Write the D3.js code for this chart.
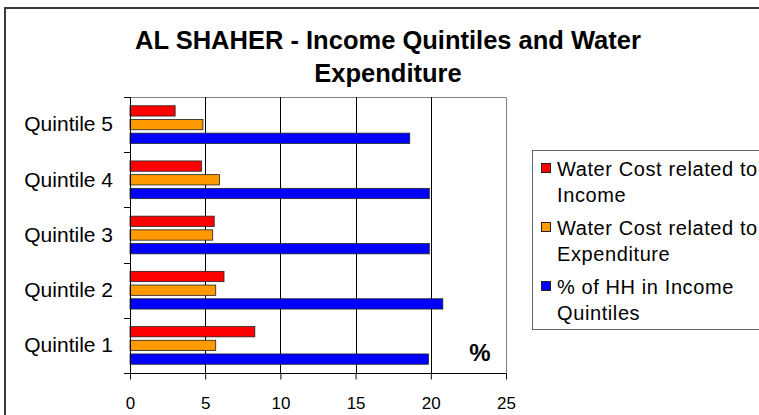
<!DOCTYPE html>
<html>
<head>
<meta charset="utf-8">
<script src="https://cdn.jsdelivr.net/npm/d3@7"></script>
<style>
  body { margin: 0; background: #fff; }
  svg { display: block; font-family: "Liberation Sans", Arial, sans-serif; }
</style>
</head>
<body>
<div id="chart"></div>
<script>
// values (%)
const categories = ["Quintile 5", "Quintile 4", "Quintile 3", "Quintile 2", "Quintile 1"];
const incomeCost = [3.0, 4.75, 5.6, 6.25, 8.3];
const expenditureCost = [4.85, 5.95, 5.5, 5.7, 5.7];
const hhShare = [18.6, 19.9, 19.9, 20.8, 19.85];
const xTicks = [0, 5, 10, 15, 20, 25];

const series = [
  { key: "income", values: incomeCost, color: "#ff0000", label: ["Water Cost related to", "Income"] },
  { key: "expend", values: expenditureCost, color: "#ff9900", label: ["Water Cost related to", "Expenditure"] },
  { key: "hh", values: hhShare, color: "#0000ff", label: ["% of HH in Income", "Quintiles"] }
];

const W = 759, H = 415;
const plot = { left: 130, top: 97, right: 506, bottom: 373 };

const svg = d3.select("#chart").append("svg")
  .attr("width", W).attr("height", H);

// chart area border (runs off the right and bottom edges)
svg.append("rect")
  .attr("x", 5).attr("y", 8).attr("width", 820).attr("height", 460)
  .attr("fill", "#fff").attr("stroke", "#3a3a3a").attr("stroke-width", 2);

// title
const title = svg.append("text")
  .attr("text-anchor", "middle").attr("font-weight", "bold").attr("font-size", 25.5);
title.append("tspan").attr("x", 388).attr("y", 49).text("AL SHAHER - Income Quintiles and Water");
title.append("tspan").attr("x", 388).attr("y", 82).text("Expenditure");

const x = d3.scaleLinear().domain([0, 25]).range([plot.left, plot.right]);

const y0 = d3.scaleBand().domain(categories)
  .range([plot.top, plot.bottom]).paddingInner(0.317).paddingOuter(0.1585);
const y1 = d3.scaleBand().domain(series.map(s => s.key))
  .range([0, y0.bandwidth()]).paddingInner(0.248).paddingOuter(0);

// plot area border (top and right, grey)
svg.append("path")
  .attr("d", `M${plot.left},${plot.top + 0.5}H${plot.right + 0.5}V${plot.bottom}`)
  .attr("fill", "none").attr("stroke", "#808080").attr("stroke-width", 1);

// gridlines
svg.append("g").selectAll("line")
  .data(xTicks.filter(t => t > 0 && t < 25))
  .join("line")
  .attr("x1", d => Math.round(x(d)) + 0.5).attr("x2", d => Math.round(x(d)) + 0.5)
  .attr("y1", plot.top).attr("y2", plot.bottom)
  .attr("stroke", "#000").attr("stroke-width", 1);

// bars
const groups = svg.append("g").selectAll("g")
  .data(categories)
  .join("g")
  .attr("transform", d => `translate(0,${y0(d)})`);

groups.selectAll("rect")
  .data((c, i) => series.map(s => ({ key: s.key, color: s.color, v: s.values[i] })))
  .join("rect")
  .attr("x", x(0))
  .attr("y", d => y1(d.key))
  .attr("width", d => x(d.v) - x(0))
  .attr("height", y1.bandwidth())
  .attr("fill", d => d.color)
  .attr("stroke", "#222").attr("stroke-width", 0.8);

// x axis
const xAxis = svg.append("g")
  .attr("transform", `translate(0,${plot.bottom + 0.5})`)
  .call(d3.axisBottom(x).tickValues(xTicks).tickSize(6).tickPadding(17).tickSizeOuter(0));
xAxis.selectAll("text").attr("font-size", 17).attr("font-family", "Liberation Sans, Arial, sans-serif").attr("fill", "#000");
xAxis.select(".domain").attr("d", `M${plot.left},0H${plot.right + 0.5}`).attr("stroke", "#000");
xAxis.selectAll(".tick line").attr("stroke", "#000");

// y axis: category labels
const yAxis = svg.append("g")
  .attr("transform", `translate(${plot.left},0)`)
  .call(d3.axisLeft(y0).tickSize(0).tickPadding(17));
yAxis.select(".domain").remove();
yAxis.selectAll("text").attr("font-size", 21).attr("font-family", "Liberation Sans, Arial, sans-serif").attr("fill", "#000");

// y axis line and boundary ticks
const bounds = categories.map(c => y0(c) - y0.step() * y0.paddingOuter());
bounds.push(plot.bottom);
svg.append("line")
  .attr("x1", plot.left + 0.5).attr("x2", plot.left + 0.5)
  .attr("y1", plot.top).attr("y2", plot.bottom + 1)
  .attr("stroke", "#000");
svg.append("g").selectAll("line")
  .data(bounds)
  .join("line")
  .attr("x1", plot.left - 6).attr("x2", plot.left)
  .attr("y1", d => Math.round(d) + 0.5).attr("y2", d => Math.round(d) + 0.5)
  .attr("stroke", "#000");

// % unit label
svg.append("text")
  .attr("x", 480).attr("y", 361)
  .attr("text-anchor", "middle").attr("font-weight", "bold").attr("font-size", 24)
  .text("%");

// legend
const legend = svg.append("g");
legend.append("rect")
  .attr("x", 532.5).attr("y", 150.5).attr("width", 300).attr("height", 179)
  .attr("fill", "#fff").attr("stroke", "#666").attr("stroke-width", 1);

const items = legend.selectAll("g.item")
  .data(series)
  .join("g").attr("class", "item")
  .attr("transform", (d, i) => `translate(0,${176 + i * 59})`);

items.append("rect")
  .attr("x", 541.5).attr("y", -12.5).attr("width", 9).attr("height", 9)
  .attr("fill", d => d.color).attr("stroke", "#222").attr("stroke-width", 1);

items.append("text")
  .attr("font-size", 20).attr("letter-spacing", 0.6)
  .selectAll("tspan")
  .data(d => d.label)
  .join("tspan")
  .attr("x", 557).attr("y", (d, i) => i * 25.7)
  .text(d => d);
</script>
</body>
</html>
